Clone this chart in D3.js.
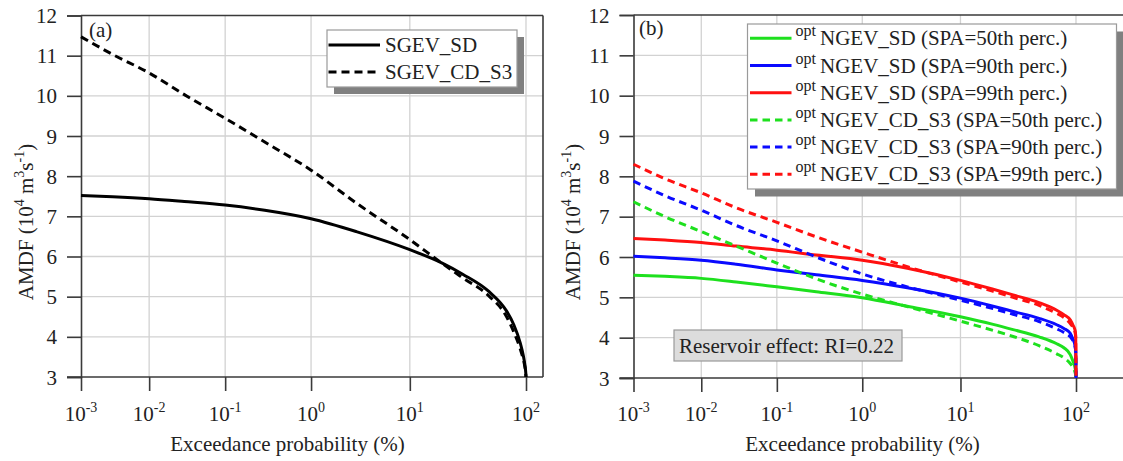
<!DOCTYPE html>
<html><head><meta charset="utf-8">
<script src="https://cdn.jsdelivr.net/npm/d3@7"></script>
<style>
body{margin:0;background:#fff}
svg{display:block}
svg text{font-family:"Liberation Serif","Tinos","Times New Roman","DejaVu Serif",serif !important;fill:#222}
</style>
</head><body>
<svg id="c" width="1123" height="461" font-family="Liberation Serif, Tinos, DejaVu Serif, serif"></svg>
<script>
// ---------------- data ----------------
const yTicks = [3,4,5,6,7,8,9,10,11,12];
const xTickExps = [-3,-2,-1,0,1,2];

// exceedance probability (%) grid shared by all curves
const pGrid = [0.001,0.003,0.01,0.03,0.1,0.3,1,3,10,20,30,50,70,80,90,95,98,99.5,100];

// panel (a)
const sgevSD   = [7.52,7.49,7.44,7.37,7.28,7.15,6.94,6.62,6.17,5.83,5.56,5.13,4.64,4.30,3.85,3.55,3.30,3.12,3.00];
const sgevCDS3 = [11.47,11.03,10.57,10.03,9.44,8.85,8.15,7.33,6.42,5.82,5.47,5.02,4.50,4.12,3.70,3.45,3.25,3.10,3.00];

// panel (b)
const ngevSD50   = [5.55,5.52,5.47,5.38,5.26,5.14,4.99,4.78,4.52,4.33,4.20,4.02,3.85,3.75,3.58,3.40,3.27,3.14,3.00];
const ngevSD90   = [6.02,5.98,5.92,5.82,5.68,5.56,5.42,5.24,4.98,4.78,4.65,4.48,4.32,4.23,4.11,3.95,3.82,3.65,3.00];
const ngevSD99   = [6.46,6.42,6.36,6.27,6.17,6.05,5.92,5.72,5.42,5.20,5.06,4.87,4.68,4.57,4.44,4.30,4.20,4.05,3.00];
const ngevCD50   = [7.37,7.00,6.63,6.27,5.85,5.46,5.08,4.77,4.41,4.18,4.03,3.80,3.60,3.50,3.36,3.25,3.15,3.06,3.00];
const ngevCD90   = [7.88,7.52,7.16,6.78,6.40,6.00,5.58,5.26,4.93,4.72,4.58,4.40,4.22,4.13,4.02,3.92,3.80,3.65,3.00];
const ngevCD99   = [8.30,7.94,7.59,7.22,6.86,6.50,6.12,5.76,5.38,5.15,5.00,4.80,4.60,4.50,4.35,4.25,4.15,4.00,3.00];

const legendA = ["SGEV_SD","SGEV_CD_S3"];
const legendB = ["NGEV_SD (SPA=50th perc.)","NGEV_SD (SPA=90th perc.)","NGEV_SD (SPA=99th perc.)",
                 "NGEV_CD_S3 (SPA=50th perc.)","NGEV_CD_S3 (SPA=90th perc.)","NGEV_CD_S3 (SPA=99th perc.)"];
const annotation = "Reservoir effect: RI=0.22";

// ---------------- drawing ----------------
const FONT = "Liberation Serif, Tinos, DejaVu Serif, serif";
const svg = d3.select("#c");
svg.append("rect").attr("width",1123).attr("height",461).attr("fill","#fff");

const GREEN="#1ee01e", BLUE="#0a0aff", RED="#ff1010";
const AXC="#3a3a3a", GRIDC="#d2d2d2";

// probability-paper transform of exceedance probability
const tf = p => -Math.log(7.2 - Math.log10(p));

function panel(o){
  const g = svg.append("g").attr("font-family",FONT);
  const lin = d3.scaleLinear().domain([tf(1e-3), tf(100)]).range([o.x0, o.x100]);
  const x = p => lin(tf(p));
  const y = d3.scaleLinear().domain([3,12]).range([o.yb, o.yt]);

  // grid
  g.append("g").selectAll("line").data(yTicks.slice(1,-1)).join("line")
    .attr("x1",o.x0).attr("x2",o.xr).attr("y1",d=>y(d)).attr("y2",d=>y(d))
    .attr("stroke",GRIDC).attr("stroke-width",1.3);
  g.append("g").selectAll("line").data(xTickExps.slice(1)).join("line")
    .attr("x1",d=>x(10**d)).attr("x2",d=>x(10**d)).attr("y1",o.yt).attr("y2",o.yb)
    .attr("stroke",GRIDC).attr("stroke-width",1.3);

  // frame (top, right)
  g.append("line").attr("x1",o.x0).attr("x2",o.xr).attr("y1",o.yt).attr("y2",o.yt)
    .attr("stroke",AXC).attr("stroke-width",1.6);
  g.append("line").attr("x1",o.xr).attr("x2",o.xr).attr("y1",o.yt).attr("y2",o.yb)
    .attr("stroke",AXC).attr("stroke-width",1.6);

  // y axis
  const ya = g.append("g").attr("transform",`translate(${o.x0},0)`)
    .call(d3.axisLeft(y).tickValues(yTicks).tickSize(14).tickPadding(10).tickFormat(d3.format("d")));
  ya.attr("font-family",FONT).attr("font-size",21);
  ya.select(".domain").attr("stroke",AXC).attr("stroke-width",1.6);
  ya.selectAll(".tick line").attr("stroke",AXC).attr("stroke-width",1.6);
  ya.selectAll(".tick text").attr("font-size",21).attr("fill","#222").attr("dy","0.34em");

  // x axis
  const xa = g.append("g").attr("transform",`translate(0,${o.yb})`)
    .call(d3.axisBottom(lin).tickValues(xTickExps.map(k=>tf(10**k))).tickSize(14).tickFormat(""));
  xa.select(".domain").remove();
  g.append("line").attr("x1",o.x0-14).attr("x2",o.xr).attr("y1",o.yb).attr("y2",o.yb)
    .attr("stroke",AXC).attr("stroke-width",1.6);
  xa.selectAll(".tick line").attr("stroke",AXC).attr("stroke-width",1.6);
  xTickExps.forEach(k=>{
    const t = g.append("text").attr("x",x(10**k)).attr("y",421).attr("text-anchor","middle").attr("font-size",21);
    t.append("tspan").text("10");
    t.append("tspan").attr("font-size",14).attr("dy",-9).text(String(k));
  });

  // axis titles
  g.append("text").attr("x",o.xtitle).attr("y",451).attr("text-anchor","middle").attr("font-size",21)
    .text("Exceedance probability (%)");
  const yt = g.append("text").attr("transform",`translate(${o.ylabX},222) rotate(-90)`)
    .attr("text-anchor","middle").attr("font-size",21);
  yt.append("tspan").text("AMDF (10");
  yt.append("tspan").attr("font-size",14).attr("dy",-9).text("4");
  yt.append("tspan").attr("dy",9).text(" m");
  yt.append("tspan").attr("font-size",14).attr("dy",-9).text("3");
  yt.append("tspan").attr("dy",9).text("s");
  yt.append("tspan").attr("font-size",14).attr("dy",-9).text("-1");
  yt.append("tspan").attr("dy",9).text(")");

  g.append("text").attr("x",o.tagX).attr("y",o.tagY).attr("font-size",21).text(o.tag);

  // curves
  const line = d3.line().x((d,i)=>x(pGrid[i])).y(d=>y(d)).curve(d3.curveMonotoneX);
  o.series.forEach(s=>{
    g.append("path").attr("d",line(s.v)).attr("fill","none").attr("stroke",s.c)
      .attr("stroke-width",3).attr("stroke-dasharray",s.dash?o.dash:null);
  });
  return g;
}

const gA = panel({x0:81,x100:526,xr:543,yt:15.5,yb:377,xtitle:287.5,ylabX:33,tag:"(a)",tagX:89,tagY:37,dash:"8,5",
  series:[{v:sgevSD,c:"#000",dash:false},{v:sgevCDS3,c:"#000",dash:true}]});

const gB = panel({x0:633.5,x100:1076,xr:1140,yt:15,yb:378,xtitle:862.5,ylabX:580,tag:"(b)",tagX:639,tagY:35,dash:"7.5,5",
  series:[{v:ngevSD50,c:GREEN},{v:ngevSD90,c:BLUE},{v:ngevSD99,c:RED},
          {v:ngevCD50,c:GREEN,dash:true},{v:ngevCD90,c:BLUE,dash:true},{v:ngevCD99,c:RED,dash:true}]});

// legend (a)
(function(){
  const bx=327, by=30, bw=190, bh=57;
  gA.append("rect").attr("x",bx+7).attr("y",by+7).attr("width",bw).attr("height",bh).attr("fill","#808080");
  gA.append("rect").attr("x",bx).attr("y",by).attr("width",bw).attr("height",bh).attr("fill","#fff")
    .attr("stroke","#9a9a9a").attr("stroke-width",1.2);
  const rows=[45,72];
  legendA.forEach((lab,i)=>{
    gA.append("line").attr("x1",bx+1.5).attr("x2",bx+53).attr("y1",rows[i]).attr("y2",rows[i])
      .attr("stroke","#000").attr("stroke-width",3).attr("stroke-dasharray",i===1?"8,5":null);
    gA.append("text").attr("x",bx+58).attr("y",rows[i]+7).attr("font-size",21).text(lab);
  });
})();

// legend (b)
(function(){
  const bx=747.5, by=24, bw=369, bh=165;
  const cols=[GREEN,BLUE,RED,GREEN,BLUE,RED];
  gB.append("rect").attr("x",bx+7.5).attr("y",by+7.5).attr("width",bw).attr("height",bh).attr("fill","#808080");
  gB.append("rect").attr("x",bx).attr("y",by).attr("width",bw).attr("height",bh).attr("fill","#fff")
    .attr("stroke","#9a9a9a").attr("stroke-width",1.2);
  legendB.forEach((lab,i)=>{
    const ry = 38.3 + i*27.2;
    gB.append("line").attr("x1",bx+2.5).attr("x2",bx+44).attr("y1",ry).attr("y2",ry)
      .attr("stroke",cols[i]).attr("stroke-width",3).attr("stroke-dasharray",i>=3?"7.5,5":null);
    const t = gB.append("text").attr("x",bx+48).attr("y",ry+7).attr("font-size",21);
    t.append("tspan").attr("font-size",16).attr("dy",-9).text("opt");
    t.append("tspan").attr("x",bx+72.5).attr("dy",9).text(lab);
  });
})();

// annotation
gB.append("rect").attr("x",674).attr("y",330).attr("width",228).attr("height",31)
  .attr("fill","#dcdcdc").attr("stroke","#9a9a9a").attr("stroke-width",1.2);
gB.append("text").attr("x",679).attr("y",353).attr("font-size",21).text(annotation);
</script>
</body></html>
